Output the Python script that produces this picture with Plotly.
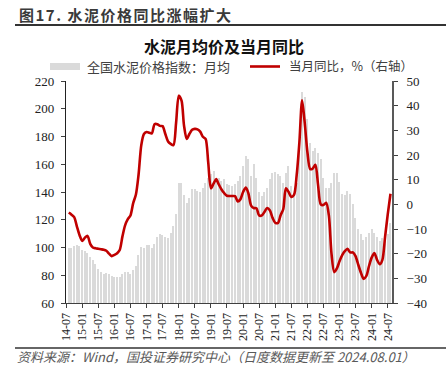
import pandas as pd
import plotly.graph_objects as go

# ---------------- data ----------------
months = pd.date_range("2014-08-01", periods=121, freq="MS")

cement_index = [
    100, 99.5, 101, 101.8, 101, 98.2, 97.3, 96, 93.3, 90.7,
    88, 84.5, 82, 81.2, 81.5, 81, 79.5, 78.5, 78.5, 78.5,
    80.7, 82.5, 82.5, 81, 83.5, 87, 94.5, 100.5, 100, 101.5,
    101.8, 100, 102.7, 107.6, 109.7, 109, 107.6, 106.5, 110.3, 115.6,
    124.5, 146.8, 146.8, 137.8, 132.2, 135.9, 142, 142, 140.7, 140.2,
    143, 146.8, 150.4, 152.8, 155.3, 149.2, 150.4, 148, 149.2, 146,
    145, 144.4, 146, 148, 151.6, 158.9, 166.2, 163.8, 151.6, 160.1,
    150, 140, 137.1, 140, 143.2, 149.2, 153.6, 154.5, 152.8, 151.6,
    146.8, 153.6, 158.9, 144.4, 139.5, 146.8, 174.7, 212.2, 208.6, 192.8,
    175, 169.5, 172, 168, 163.8, 150.4, 143.2, 143.2, 146.8, 154,
    154, 147.5, 138.8, 137.8, 140.7, 138.8, 131, 121.3, 113.6, 109.7,
    105.6, 107.3, 110.4, 113.6, 110.4, 107.3, 104.9, 106.5, 106, 110,
    117.7,
]

yoy_pct = [
    -3.3, -4.2, -5.2, -9, -12.5, -14.8, -13.5, -12.8, -16, -17.5,
    -17.8, -18, -18.2, -18.4, -18.8, -20, -21, -20.5, -19.8, -18.5,
    -13, -8.5, -6, -4.5, 0.5, 4, 12, 24, 28.5, 29.3,
    29, 28.8, 32.5, 32.5, 31.8, 31.7, 28.5, 25.5, 24.5, 24,
    33, 44, 42, 32, 26.5, 28.5, 30.2, 30.6, 30.4, 29.5,
    27.4, 26.5, 17, 6.5, 8.5, 10.2, 8, 6, 4.5, 3.5,
    3.4, 3.4, 3.3, 1.2, 2, 5, 6.8, 4.5, -0.5, -1.5,
    -1.6, -4.5, -4.5, -3, -1.5, -2.5, -5.5, -7.5, -7.5, -4.5,
    -2, 6.5, 5, 3, 3.8, 12, 25, 42.2, 33, 21,
    14.3, 14.5, 16, 8, 0, -0.3, 0.6, -4.5, -20, -27.5,
    -26, -23, -20.5, -19, -18, -19.5, -19.5, -21, -24.5, -27.8,
    -30.2, -29, -25, -21.5, -19.8, -22.5, -24.3, -22.5, -13, -4,
    4.3,
]

tick_labels = ["14-07", "15-01", "15-07", "16-01", "16-07", "17-01", "17-07",
               "18-01", "18-07", "19-01", "19-07", "20-01", "20-07", "21-01",
               "21-07", "22-01", "22-07", "23-01", "23-07", "24-01", "24-07"]

header_text = "图17. 水泥价格同比涨幅扩大"
title_text = "水泥月均价及当月同比"
bar_name = "全国水泥价格指数：月均"
line_name = "当月同比，%（右轴）"
source_text = "资料来源：Wind，国投证券研究中心（日度数据更新至 2024.08.01）"

# ---------------- layout helpers ----------------
W, H = 446, 379
ML, MR, MT, MB = 66, 54, 81, 76
PW, PH = W - ML - MR, H - MT - MB


def px(x):
    return (x - ML) / PW


def py(y):
    return 1 - (y - MT) / PH


tick_vals = [pd.Timestamp("20" + t + "-01") for t in tick_labels]

CJK = "Noto Sans CJK SC"
SERIF = "Liberation Serif, Times New Roman, DejaVu Serif, serif"
RED = "#C00000"
GREY_BAR = "#DADADA"
AXIS = "#404040"

fig = go.Figure()
fig.add_trace(go.Bar(
    x=months, y=cement_index, name=bar_name,
    marker=dict(color=GREY_BAR, line=dict(width=0)),
    width=15 * 86400000, yaxis="y", showlegend=False,
))
fig.add_trace(go.Scatter(
    x=months, y=yoy_pct, name=line_name, mode="lines",
    line=dict(color=RED, width=2.6, shape="spline", smoothing=0.8),
    yaxis="y2", showlegend=False,
))

fig.update_layout(
    width=W, height=H,
    margin=dict(l=ML, r=MR, t=MT, b=MB),
    paper_bgcolor="white", plot_bgcolor="white",
    xaxis=dict(
        type="date", range=["2014-06-30", "2024-08-18"],
        tickvals=tick_vals, ticktext=tick_labels, tickangle=-90,
        ticks="outside", ticklen=4, tickcolor=AXIS, tickwidth=1,
        showline=True, linecolor=AXIS, linewidth=1.3,
        showgrid=False, zeroline=False,
        tickfont=dict(family=SERIF, size=12, color="#222"),
    ),
    yaxis=dict(
        range=[60, 220], dtick=20, tick0=60,
        ticks="outside", ticklen=4, tickcolor=AXIS,
        showline=True, linecolor="#222", linewidth=1.3,
        showgrid=False, zeroline=False,
        tickfont=dict(family=SERIF, size=13, color="#222"),
        ticklabelstandoff=4,
    ),
    yaxis2=dict(
        range=[-40, 50], dtick=10, tick0=-40,
        overlaying="y", side="right",
        ticks="outside", ticklen=4, tickcolor=AXIS,
        showline=True, linecolor="#595959", linewidth=2,
        showgrid=False, zeroline=False,
        tickfont=dict(family=SERIF, size=13, color="#222"),
        ticklabelstandoff=6,
    ),
    bargap=0,
)

shapes = [
    # header rule
    dict(type="line", xref="paper", yref="paper", x0=px(15), x1=px(446),
         y0=py(25), y1=py(25), line=dict(color="#333", width=2)),
    # footer rule
    dict(type="line", xref="paper", yref="paper", x0=px(15), x1=px(446),
         y0=py(348), y1=py(348), line=dict(color="#333", width=1.5)),
    # legend swatches
    dict(type="rect", xref="paper", yref="paper", x0=px(50), x1=px(80),
         y0=py(70), y1=py(63), fillcolor=GREY_BAR, line=dict(width=0)),
    dict(type="line", xref="paper", yref="paper", x0=px(250), x1=px(280),
         y0=py(66.5), y1=py(66.5), line=dict(color=RED, width=2.6)),
]

annotations = [
    dict(text="<b><span style='letter-spacing:1.5px'>" + header_text + "</span></b>",
         x=px(17), y=py(14), xanchor="left",
         yanchor="middle", font=dict(family=CJK, size=15, color="#3a3a3a")),
    dict(text="<b>" + title_text + "</b>",
         x=px(224), y=py(46), xanchor="center",
         yanchor="middle", font=dict(family=CJK, size=16, color="#111")),
    dict(text=bar_name, x=px(85), y=py(66), xanchor="left", yanchor="middle",
         font=dict(family=CJK, size=13, color="#404040")),
    dict(text=line_name, x=px(287), y=py(65.5), xanchor="left", yanchor="middle",
         font=dict(family=CJK, size=12.5, color="#404040")),
    dict(text="<i>" + source_text + "</i>", x=px(15), y=py(356), xanchor="left",
         yanchor="middle", font=dict(family=CJK, size=13, color="#595959")),
]
for a in annotations:
    a.update(xref="paper", yref="paper", showarrow=False)

fig.update_layout(shapes=shapes, annotations=annotations)

fig.write_html("out.html", config={"displayModeBar": False},
               post_script="document.body.style.margin='0px';")
